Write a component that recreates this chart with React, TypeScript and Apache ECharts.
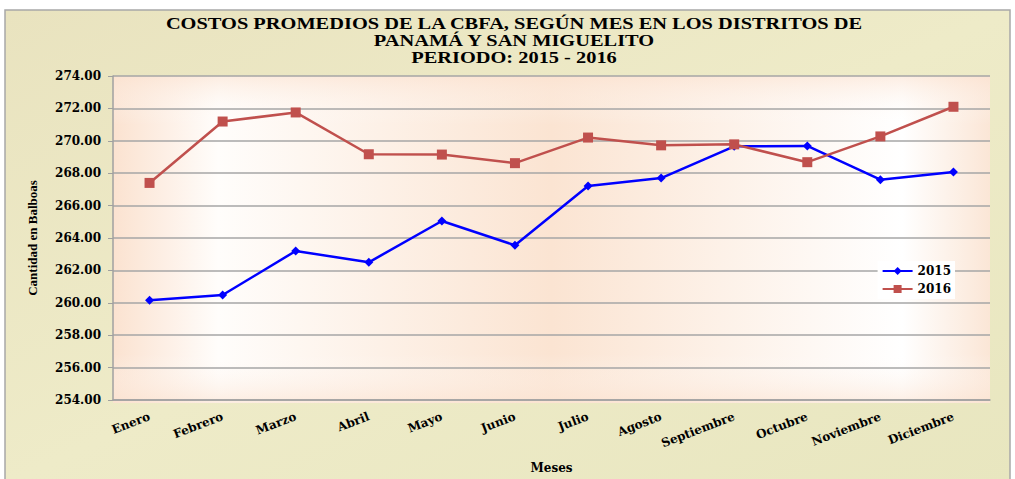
import React, { useEffect, useRef } from "react";
import * as echarts from "echarts";

const months = ["Enero", "Febrero", "Marzo", "Abril", "Mayo", "Junio", "Julio", "Agosto", "Septiembre", "Octubre", "Noviembre", "Diciembre"];
const values2015 = [260.15, 260.48, 263.2, 262.5, 265.05, 263.55, 267.21, 267.7, 269.66, 269.68, 267.6, 268.07];
const values2016 = [267.4, 271.19, 271.75, 269.17, 269.15, 268.62, 270.2, 269.72, 269.78, 268.68, 270.27, 272.1];
const titleLines = ["COSTOS PROMEDIOS DE LA CBFA, SEGÚN MES EN LOS DISTRITOS DE", "PANAMÁ Y SAN MIGUELITO", "PERIODO: 2015 - 2016"];

const times = "'Liberation Serif', 'Times New Roman', Times, serif";
const wide = "DejaVu Serif";

export default function App() {
  const ref = useRef<HTMLDivElement>(null);
  useEffect(() => {
    const chart = echarts.init(ref.current!, null, { renderer: "svg" });
    const gridL = 113, gridT = 76, gridR = 1015 - 990, gridB = 479 - 403;
    const titleGraphics = titleLines.map((t, i) => ({
      type: "text",
      z: 10,
      silent: true,
      x: 514,
      y: 23 + i * 17,
      scaleX: 1.2,
      style: {
        text: t,
        fill: "#000",
        fontFamily: times,
        fontSize: 17,
        fontWeight: "bold",
        align: "center",
        verticalAlign: "middle",
      },
    }));
    chart.setOption({
      animation: false,
      backgroundColor: "transparent",
      graphic: [
        {
          type: "rect",
          z: -10,
          silent: true,
          shape: { x: 5, y: 10, width: 1005, height: 475 },
          style: {
            fill: new echarts.graphic.LinearGradient(0, 0, 1, 1, [
              { offset: 0, color: "#e9e3bf" },
              { offset: 0.5, color: "#eeebc8" },
              { offset: 1, color: "#e8e6bf" },
            ]),
            stroke: "#a8a8a8",
            lineWidth: 1.5,
          },
        },
        {
          type: "rect",
          z: -9,
          silent: true,
          shape: { x: gridL, y: gridT, width: 1015 - gridR - gridL, height: 479 - gridB - gridT },
          style: {
            fill: new echarts.graphic.LinearGradient(0, 0, 1, 0, [
              { offset: 0, color: "#fbe2d0" },
              { offset: 0.12, color: "#fffdfb" },
              { offset: 0.5, color: "#fbe4d2" },
              { offset: 0.9, color: "#ffffff" },
              { offset: 1, color: "#fbe6d6" },
            ]),
          },
        },
        {
          type: "rect",
          z: -8,
          silent: true,
          shape: { x: gridL, y: gridT, width: 1015 - gridR - gridL, height: 479 - gridB - gridT },
          style: {
            fill: new echarts.graphic.LinearGradient(0, 0, 0, 1, [
              { offset: 0, color: "rgba(251,226,208,0.6)" },
              { offset: 0.15, color: "rgba(255,255,255,0)" },
              { offset: 0.85, color: "rgba(255,255,255,0)" },
              { offset: 1, color: "rgba(251,226,208,0.6)" },
            ]),
          },
        },
        ...titleGraphics,
      ],
      grid: { left: gridL, top: gridT, right: gridR, bottom: gridB, containLabel: false },
      legend: {
        right: 1015 - 955,
        top: 261,
        orient: "vertical",
        backgroundColor: "#ffffff",
        padding: [4, 4, 4, 4],
        itemGap: 6,
        itemWidth: 30,
        itemHeight: 10,
        textStyle: { fontFamily: wide, fontSize: 12, fontWeight: "bold", color: "#000" },
        data: ["2015", "2016"],
      },
      xAxis: {
        type: "category",
        data: months,
        boundaryGap: true,
        name: "Meses",
        nameLocation: "middle",
        nameGap: 62,
        nameTextStyle: { fontFamily: wide, fontSize: 12, fontWeight: "bold", color: "#000" },
        axisLine: { lineStyle: { color: "#a0a0a0", width: 1.5 } },
        axisTick: { show: false },
        axisLabel: {
          rotate: 21,
          margin: 16,
          interval: 0,
          fontFamily: wide,
          fontSize: 12,
          fontWeight: "bold",
          color: "#000",
        },
      },
      yAxis: {
        type: "value",
        min: 254,
        max: 274,
        interval: 2,
        name: "Cantidad en Balboas",
        nameLocation: "middle",
        nameGap: 74,
        nameTextStyle: { fontFamily: times, fontSize: 13, fontWeight: "bold", color: "#000" },
        axisLine: { show: true, lineStyle: { color: "#a0a0a0", width: 1.5 } },
        axisTick: { show: true, length: 5, lineStyle: { color: "#a0a0a0" } },
        splitLine: { lineStyle: { color: "#a6a6a6", width: 1.5 } },
        axisLabel: {
          formatter: (v: number) => v.toFixed(2),
          fontFamily: wide,
          fontSize: 12,
          fontWeight: "bold",
          color: "#000",
          margin: 12,
        },
      },
      series: [
        {
          name: "2015",
          type: "line",
          data: values2015,
          symbol: "diamond",
          symbolSize: 9,
          lineStyle: { color: "#0000ff", width: 2.5 },
          itemStyle: { color: "#0000ff" },
        },
        {
          name: "2016",
          type: "line",
          data: values2016,
          symbol: "rect",
          symbolSize: 10,
          lineStyle: { color: "#c0504d", width: 2.5 },
          itemStyle: { color: "#c0504d" },
        },
      ],
    });
    return () => chart.dispose();
  }, []);
  return <div ref={ref} style={{ position: "absolute", left: 0, top: 0, width: 1015, height: 479 }} />;
}
